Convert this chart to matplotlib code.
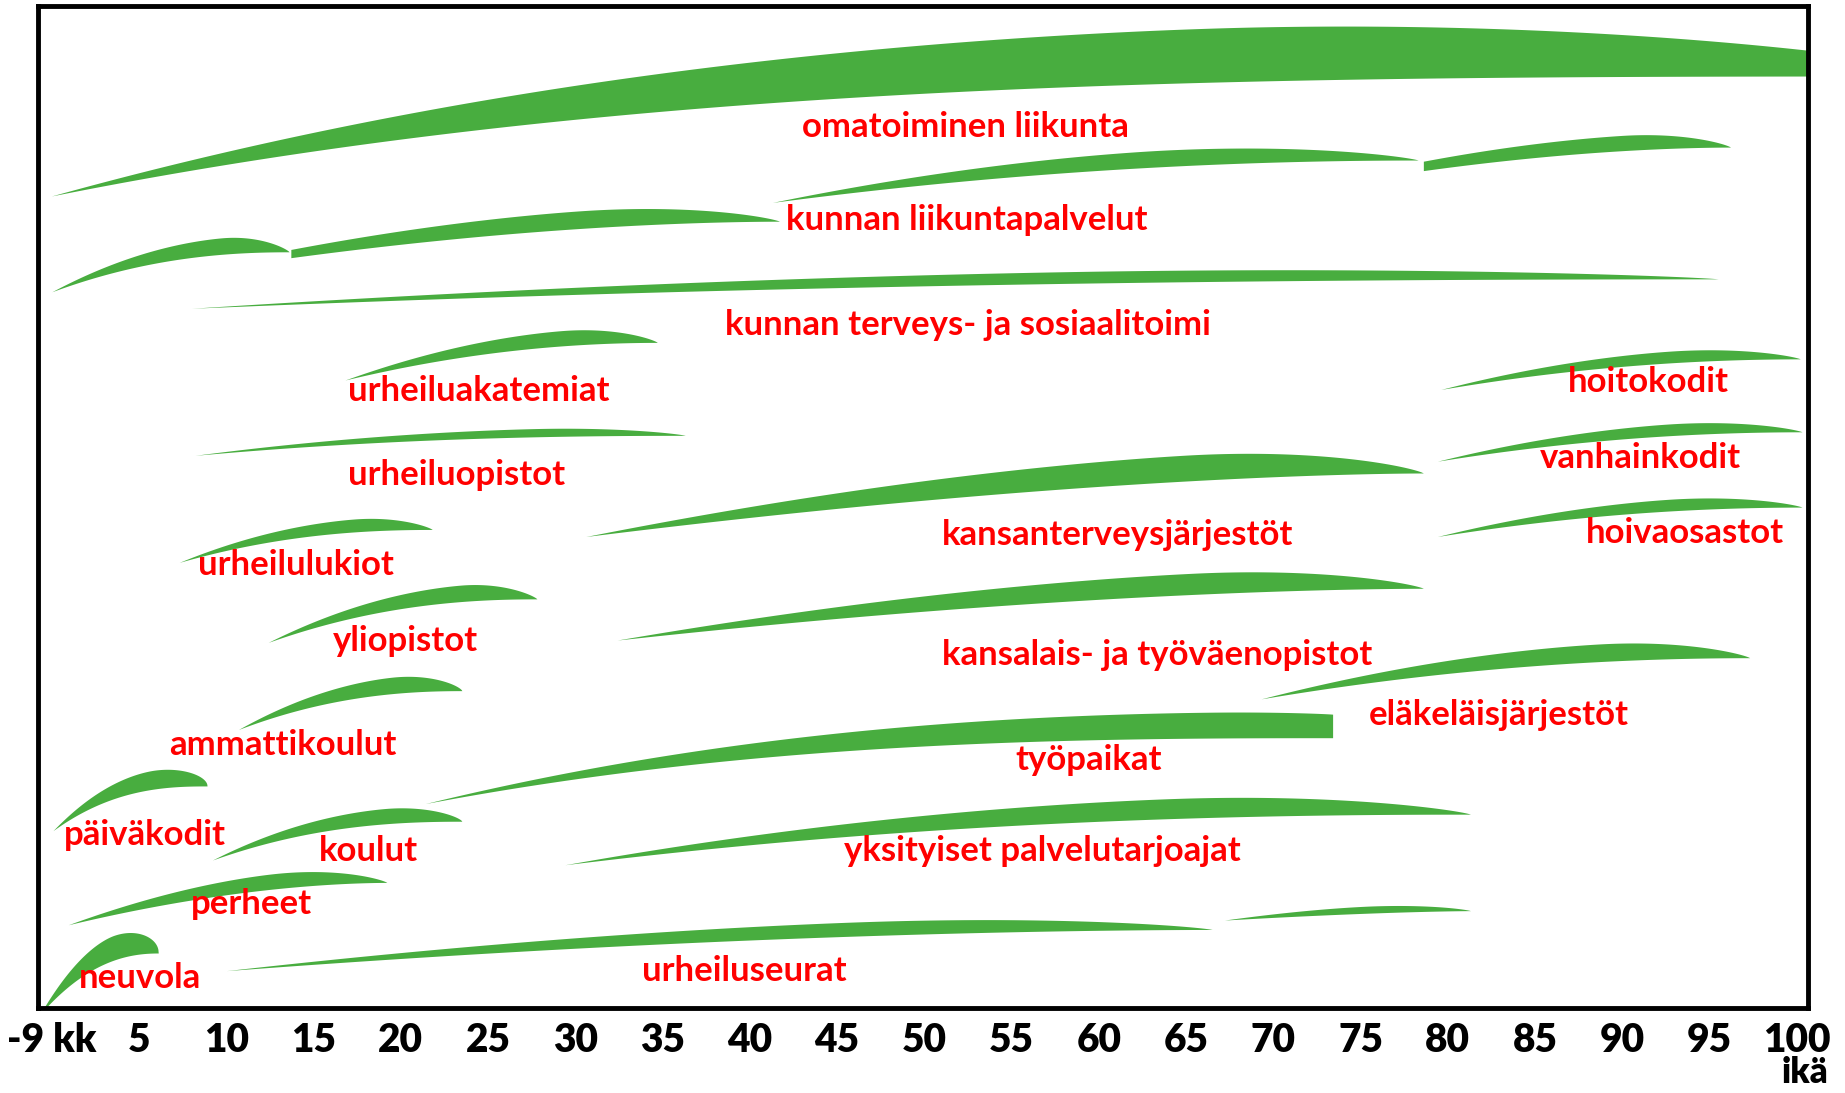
import numpy as np
import matplotlib
matplotlib.use("Agg")
import matplotlib.pyplot as plt

# age axis: "-9 kk" is drawn at age 0
tick_ages = [0, 5, 10, 15, 20, 25, 30, 35, 40, 45, 50, 55, 60, 65, 70, 75, 80, 85, 90, 95, 100]
tick_labels = ["-9 kk", "5", "10", "15", "20", "25", "30", "35", "40", "45", "50",
               "55", "60", "65", "70", "75", "80", "85", "90", "95", "100"]

# leaves: start age, end age, level at start / end (0 = top, 857 = bottom), max thickness
leaf_start = [0.0, 0.0, 13.7, 41.3, 78.6, 8.0, 16.8, 8.2, 7.3, 12.4, 10.7, 0.07, 9.2,
              0.94, -0.67, 10.0, 67.2, 21.4, 29.4, 30.6, 32.4, 69.3, 79.6, 79.4, 79.4]
leaf_end = [110.0, 13.6, 41.7, 78.3, 96.2, 95.5, 34.7, 36.3, 21.8, 27.8, 23.5, 8.9, 23.5,
            19.2, 6.1, 66.5, 81.3, 73.4, 81.3, 78.6, 78.6, 97.3, 100.2, 100.3, 100.3]
level_start = [167, 248, 219, 172, 145, 262, 323, 387, 478, 546, 620, 706, 731,
               786, 862, 825, 782, 683, 735, 456, 544, 594, 331, 392, 456]
level_end = [65, 214, 188, 136, 125, 237, 291, 370, 450, 509, 587, 668, 698,
             750, 810, 790, 774, 627, 692, 402, 500, 559, 305, 367, 431]
thickness = [46, 14, 15, 14, 13, 10, 13, 7, 11, 14, 14, 16, 13,
             13, 21, 12, 6, 22, 17, 22, 18, 15, 10, 10, 10]
peak_at = [0.62, 0.72, 0.6, 0.6, 0.65, 0.6, 0.7, 0.7, 0.7, 0.72, 0.7, 0.65, 0.7,
           0.65, 0.62, 0.65, 0.6, 0.88, 0.68, 0.72, 0.72, 0.7, 0.65, 0.65, 0.65]
rise = [3.2, 2.2, 1.8, 2.0, 1.8, 2.2, 2.0, 2.2, 2.2, 2.2, 2.2, 2.5, 2.3,
        1.8, 2.2, 1.8, 1.5, 2.6, 2.2, 1.64, 1.7, 2.0, 2.0, 2.0, 2.0]
start_width = [0, 0, 7, 0, 8, 0, 0, 0, 0, 0, 0, 0, 0,
               0, 0, 0, 0, 0, 0, 0, 0, 0, 0, 0, 0]
end_width = [0, 0, 0, 0, 0, 0, 0, 0, 0, 0, 0, 0, 0,
             0, 0, 0, 0, 20, 0, 0, 0, 0, 0, 0, 0]
# end roundness: smaller = blunter tip
end_shape = [0.8, 0.8, 0.8, 0.8, 0.8, 0.8, 0.8, 0.8, 0.8, 0.8, 0.7, 0.5, 0.7,
             0.8, 0.45, 0.8, 0.8, 0.8, 0.8, 0.8, 0.8, 0.8, 0.8, 0.8, 0.8]

labels = ["omatoiminen liikunta", "kunnan liikuntapalvelut", "kunnan terveys- ja sosiaalitoimi",
          "urheiluakatemiat", "urheiluopistot", "hoitokodit", "vanhainkodit", "hoivaosastot",
          "kansanterveysjärjestöt", "urheilulukiot", "yliopistot", "kansalais- ja työväenopistot",
          "eläkeläisjärjestöt", "ammattikoulut", "työpaikat", "päiväkodit", "koulut",
          "yksityiset palvelutarjoajat", "perheet", "neuvola", "urheiluseurat"]
label_age = [43.0, 42.1, 38.6, 17.0, 17.0, 86.9, 85.3, 87.9, 51.0, 8.4, 16.1, 51.0,
             75.5, 6.7, 55.2, 0.7, 15.3, 45.4, 8.0, 1.55, 33.8]
label_level = [108, 187, 276, 332, 404, 325, 389, 453, 455, 480, 545, 557,
               608, 633, 646, 710, 723, 723, 768, 831, 825]

GREEN = "#48ad3f"
plt.rcParams['font.family'] = ['Lato', 'DejaVu Sans']

fig = plt.figure(figsize=(18.45, 10.93), dpi=100)
ax = fig.add_axes([0.0204, 0.0775, 0.9598, 0.9171])


def leaf(x0, x1, y0, y1, W, tp, p, w0, w1, er):
    t = np.linspace(0, 1, 400)
    x = x0 + (x1 - x0) * t
    low = y0 + (y1 - y0) * (1 - (1 - t) ** p)
    sl = np.clip(t / tp, 0, 1)
    sr = np.clip((t - tp) / (1 - tp), 0, 1)
    w = np.where(t <= tp, w0 + (W - w0) * (1 - (1 - sl) ** 1.7),
                 w1 + (W - w1) * np.clip(1 - sr ** 2, 0, 1) ** er)
    ax.fill_between(x, low, low - w, color=GREEN, lw=0)


for i in range(len(leaf_start)):
    leaf(leaf_start[i], leaf_end[i], level_start[i], level_end[i], thickness[i],
         peak_at[i], rise[i], start_width[i], end_width[i], end_shape[i])

for txt, xa, yl in zip(labels, label_age, label_level):
    ax.text(xa, yl, txt, color="#ff0000", fontsize=25, fontweight="bold",
            ha="left", va="center")

ax.set_xlim(-0.81, 100.67)
ax.set_ylim(857, 5)
ax.set_xticks(tick_ages, tick_labels)
ax.set_yticks([])
ax.tick_params(axis="x", length=0, pad=10, labelsize=28)
for lab in ax.get_xticklabels():
    lab.set_fontweight("heavy")
for s in ax.spines.values():
    s.set_linewidth(3.5)
    s.set_color("black")

fig.text(0.991, 0.004, "ikä", ha="right", va="bottom", fontsize=25, fontweight="heavy")

fig.savefig("out.png", dpi=100)
